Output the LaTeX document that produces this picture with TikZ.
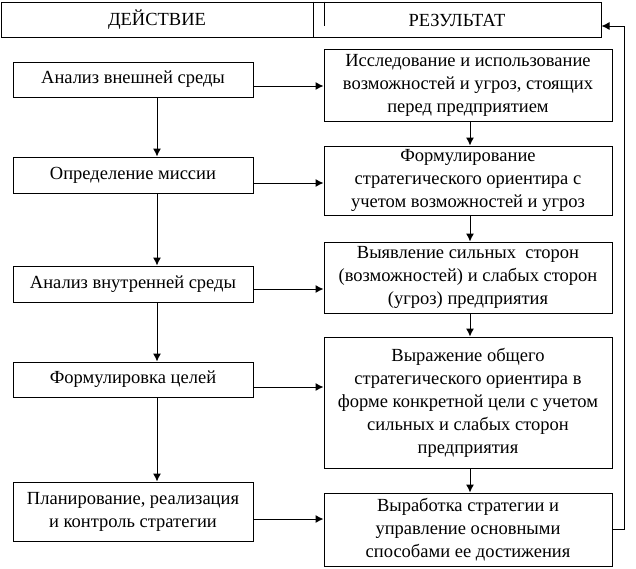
\documentclass[tikz,border=0pt]{standalone}
\usepackage{fontspec}
\setmainfont{Liberation Serif}
\usetikzlibrary{arrows.meta}
\begin{document}
\begin{tikzpicture}[x=1pt,y=-1pt,
  every node/.style={font=\fontsize{18.5}{23}\selectfont},
  lbox/.style={draw,line width=1pt,minimum width=240pt,inner sep=0pt,align=center},
  rbox/.style={draw,line width=1pt,minimum width=288pt,inner sep=0pt,align=center},
  arr/.style={line width=1pt,-{Latex[length=8pt,width=8pt]}},
  ln/.style={line width=1pt}]
\useasboundingbox (0,0) rectangle (636,568);
% header
\node[draw,line width=1pt,minimum width=600pt,minimum height=35pt,inner sep=0pt] (hdr) at (301,19.5) {};
\node (h1) at (157,20) {ДЕЙСТВИЕ};
\node (h2) at (457,20) {РЕЗУЛЬТАТ};
\coordinate (dv) at (313,0);
\coordinate (dv2) at (324,26);
\draw[ln] (hdr.north -| dv) -- (hdr.south -| dv);
\draw[ln] (hdr.north -| dv2) -- (dv2);
% left column
\node[lbox,minimum height=35pt] (l1) at (133,79.5) {Анализ внешней среды};
\node[lbox,minimum height=36pt] (l2) at (133,175) {Определение миссии};
\node[lbox,minimum height=36pt] (l3) at (133,284) {Анализ внутренней среды};
\node[lbox,minimum height=35pt] (l4) at (133,379.5) {Формулировка целей};
\node[lbox,minimum height=59pt] (l5) at (133,511.5) {Планирование, реализация\\и контроль стратегии};
% right column
\node[rbox,minimum height=72pt] (r1) at (468,85) {Исследование и использование\\возможностей и угроз, стоящих\\перед предприятием};
\node[rbox,minimum height=69pt] (r2) at (468,180.5) {Формулирование\\стратегического ориентира с\\учетом возможностей и угроз};
\node[rbox,minimum height=71pt] (r3) at (468,277.5) {Выявление сильных\ \ сторон\\(возможностей) и слабых сторон\\(угроз) предприятия};
\node[rbox,minimum height=131pt] (r4) at (468,402.5) {Выражение общего\\стратегического ориентира в\\форме конкретной цели с учетом\\сильных и слабых сторон\\предприятия};
\node[rbox,minimum height=73pt] (r5) at (468,529.5) {Выработка стратегии и\\управление основными\\способами ее достижения};
% vertical arrows
\coordinate (lc) at (157,0);
\coordinate (rc) at (470,0);
\draw[arr] (l1.south -| lc) -- (l2.north -| lc);
\draw[arr] (l2.south -| lc) -- (l3.north -| lc);
\draw[arr] (l3.south -| lc) -- (l4.north -| lc);
\draw[arr] (l4.south -| lc) -- (l5.north -| lc);
\draw[arr] (r1.south -| rc) -- (r2.north -| rc);
\draw[arr] (r2.south -| rc) -- (r3.north -| rc);
\draw[arr] (r3.south -| rc) -- (r4.north -| rc);
\draw[arr] (r4.south -| rc) -- (r5.north -| rc);
% horizontal arrows
\coordinate (a1) at (0,86);
\coordinate (a2) at (0,183);
\coordinate (a3) at (0,289);
\coordinate (a4) at (0,387);
\coordinate (a5) at (0,519);
\draw[arr] (l1.east |- a1) -- (r1.west |- a1);
\draw[arr] (l2.east |- a2) -- (r2.west |- a2);
\draw[arr] (l3.east |- a3) -- (r3.west |- a3);
\draw[arr] (l4.east |- a4) -- (r4.west |- a4);
\draw[arr] (l5.east |- a5) -- (r5.west |- a5);
% feedback loop
\coordinate (lb) at (624,529);
\coordinate (lt) at (624,26);
\draw[arr] (r5.east |- lb) -- (lb) -- (lt) -- (hdr.east |- lt);
\end{tikzpicture}
\end{document}
